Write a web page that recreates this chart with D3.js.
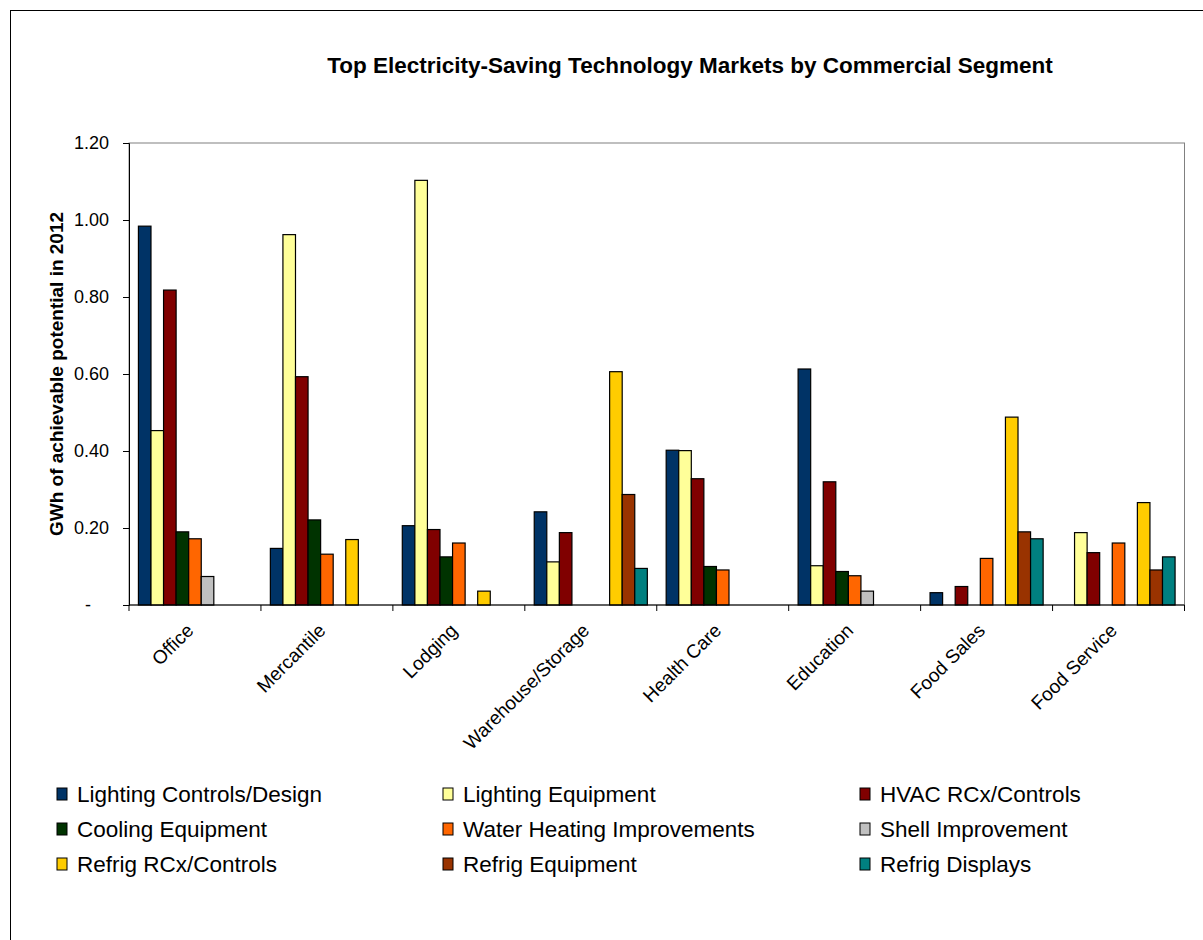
<!DOCTYPE html>
<html>
<head>
<meta charset="utf-8">
<script src="https://cdn.jsdelivr.net/npm/d3@7"></script>
<style>
  body { margin: 0; background: #fff; }
  svg { font-family: "Liberation Sans", Arial, sans-serif; }
</style>
</head>
<body>
<svg id="chart" width="1203" height="940"></svg>
<script>
// data
const categories = ['Office', 'Mercantile', 'Lodging', 'Warehouse/Storage', 'Health Care', 'Education', 'Food Sales', 'Food Service'];
const seriesNames = [
  'Lighting Controls/Design', 'Lighting Equipment', 'HVAC RCx/Controls',
  'Cooling Equipment', 'Water Heating Improvements', 'Shell Improvement',
  'Refrig RCx/Controls', 'Refrig Equipment', 'Refrig Displays'
];
const seriesColors = ['#003366', '#FFFF99', '#800000', '#003300', '#FF6600', '#C0C0C0', '#FFCC00', '#993300', '#008080'];

const lightingControls = [0.984, 0.147, 0.206, 0.242, 0.402, 0.613, 0.032, 0];
const lightingEquipment = [0.453, 0.962, 1.103, 0.112, 0.401, 0.102, 0, 0.188];
const hvacControls = [0.818, 0.593, 0.196, 0.188, 0.328, 0.320, 0.048, 0.136];
const coolingEquipment = [0.190, 0.221, 0.125, 0, 0.100, 0.087, 0, 0];
const waterHeating = [0.172, 0.132, 0.161, 0, 0.091, 0.076, 0.121, 0.161];
const shellImprovement = [0.074, 0, 0, 0, 0, 0.036, 0, 0];
const refrigControls = [0, 0.170, 0.036, 0.606, 0, 0, 0.488, 0.266];
const refrigEquipment = [0, 0, 0, 0.287, 0, 0, 0.190, 0.091];
const refrigDisplays = [0, 0, 0, 0.095, 0, 0, 0.172, 0.125];

const seriesValues = [lightingControls, lightingEquipment, hvacControls, coolingEquipment,
  waterHeating, shellImprovement, refrigControls, refrigEquipment, refrigDisplays];

const yTicks = [0, 0.2, 0.4, 0.6, 0.8, 1.0, 1.2];

const svg = d3.select('#chart');

// outer chart frame
svg.append('rect')
  .attr('x', 10.5).attr('y', 10.5)
  .attr('width', 1300).attr('height', 1000)
  .attr('fill', '#fff')
  .attr('stroke', '#000').attr('stroke-width', 1);

const plot = {left: 129, right: 1184.5, top: 143, bottom: 605};

const x = d3.scaleBand()
  .domain(categories)
  .range([plot.left, plot.right]);

const xSeries = d3.scaleBand()
  .domain(d3.range(seriesNames.length))
  .range([0, x.bandwidth()])
  .paddingOuter(0.75);

const y = d3.scaleLinear()
  .domain([0, 1.2])
  .range([plot.bottom, plot.top]);

// plot area border (top and right)
svg.append('rect')
  .attr('x', plot.left).attr('y', plot.top)
  .attr('width', plot.right - plot.left).attr('height', plot.bottom - plot.top)
  .attr('fill', 'none')
  .attr('stroke', '#808080').attr('stroke-width', 1);

// title
svg.append('text')
  .attr('x', 690).attr('y', 73)
  .attr('text-anchor', 'middle')
  .style('font-size', '22.5px').style('font-weight', 'bold')
  .text('Top Electricity-Saving Technology Markets by Commercial Segment');

// bars
const groups = svg.append('g').selectAll('g')
  .data(seriesValues)
  .join('g')
  .attr('fill', (d, i) => seriesColors[i]);

groups.selectAll('rect')
  .data((vals, si) => vals.map((v, ci) => ({v, ci, si})).filter(d => d.v > 0))
  .join('rect')
  .attr('x', d => x(categories[d.ci]) + xSeries(d.si))
  .attr('y', d => y(d.v))
  .attr('width', xSeries.bandwidth())
  .attr('height', d => y(0) - y(d.v))
  .attr('stroke', '#000')
  .attr('stroke-width', 1.2);

// y axis
const yAxis = svg.append('g')
  .attr('transform', `translate(${plot.left},0)`)
  .call(d3.axisLeft(y)
    .tickValues(yTicks)
    .tickSize(6)
    .tickPadding(14)
    .tickFormat(d => d === 0 ? '-' : d3.format('.2f')(d)));
yAxis.select('.domain').attr('stroke', '#000');
yAxis.selectAll('.tick line').attr('stroke', '#000');
yAxis.selectAll('.tick text')
  .style('font-size', '18px')
  .attr('fill', '#000')
  .attr('dx', d => d === 0 ? -18 : 0);

// x axis: ticks on category boundaries
const xAxis = svg.append('g')
  .attr('transform', `translate(0,${plot.bottom})`);
xAxis.append('line')
  .attr('x1', plot.left).attr('x2', plot.right)
  .attr('y1', 0).attr('y2', 0)
  .attr('stroke', '#000');
xAxis.selectAll('line.tick')
  .data(categories.concat(['end']))
  .join('line')
  .attr('class', 'tick')
  .attr('x1', (d, i) => i < categories.length ? x(d) : plot.right)
  .attr('x2', (d, i) => i < categories.length ? x(d) : plot.right)
  .attr('y1', 0).attr('y2', 6)
  .attr('stroke', '#000');
xAxis.selectAll('text')
  .data(categories)
  .join('text')
  .attr('transform', d => `translate(${x(d) + x.bandwidth() / 2 - 5},${22}) rotate(-45)`)
  .attr('text-anchor', 'end')
  .attr('dy', '0.35em')
  .style('font-size', '19px')
  .text(d => d);

// y axis title
svg.append('text')
  .attr('transform', `translate(63,${(plot.top + plot.bottom) / 2}) rotate(-90)`)
  .attr('text-anchor', 'middle')
  .style('font-size', '19px').style('font-weight', 'bold')
  .text('GWh of achievable potential in 2012');

// legend
const legendCols = [57, 443, 860];
const legendRows = [794, 829, 864];
const legend = svg.append('g').selectAll('g')
  .data(seriesNames)
  .join('g')
  .attr('transform', (d, i) => `translate(${legendCols[i % 3]},${legendRows[Math.floor(i / 3)]})`);
legend.append('rect')
  .attr('x', 0).attr('y', -6)
  .attr('width', 10).attr('height', 12)
  .attr('fill', (d, i) => seriesColors[i])
  .attr('stroke', '#000');
legend.append('text')
  .attr('x', 20).attr('y', 0)
  .attr('dy', '0.35em')
  .style('font-size', '22.5px')
  .text(d => d);
</script>
</body>
</html>
